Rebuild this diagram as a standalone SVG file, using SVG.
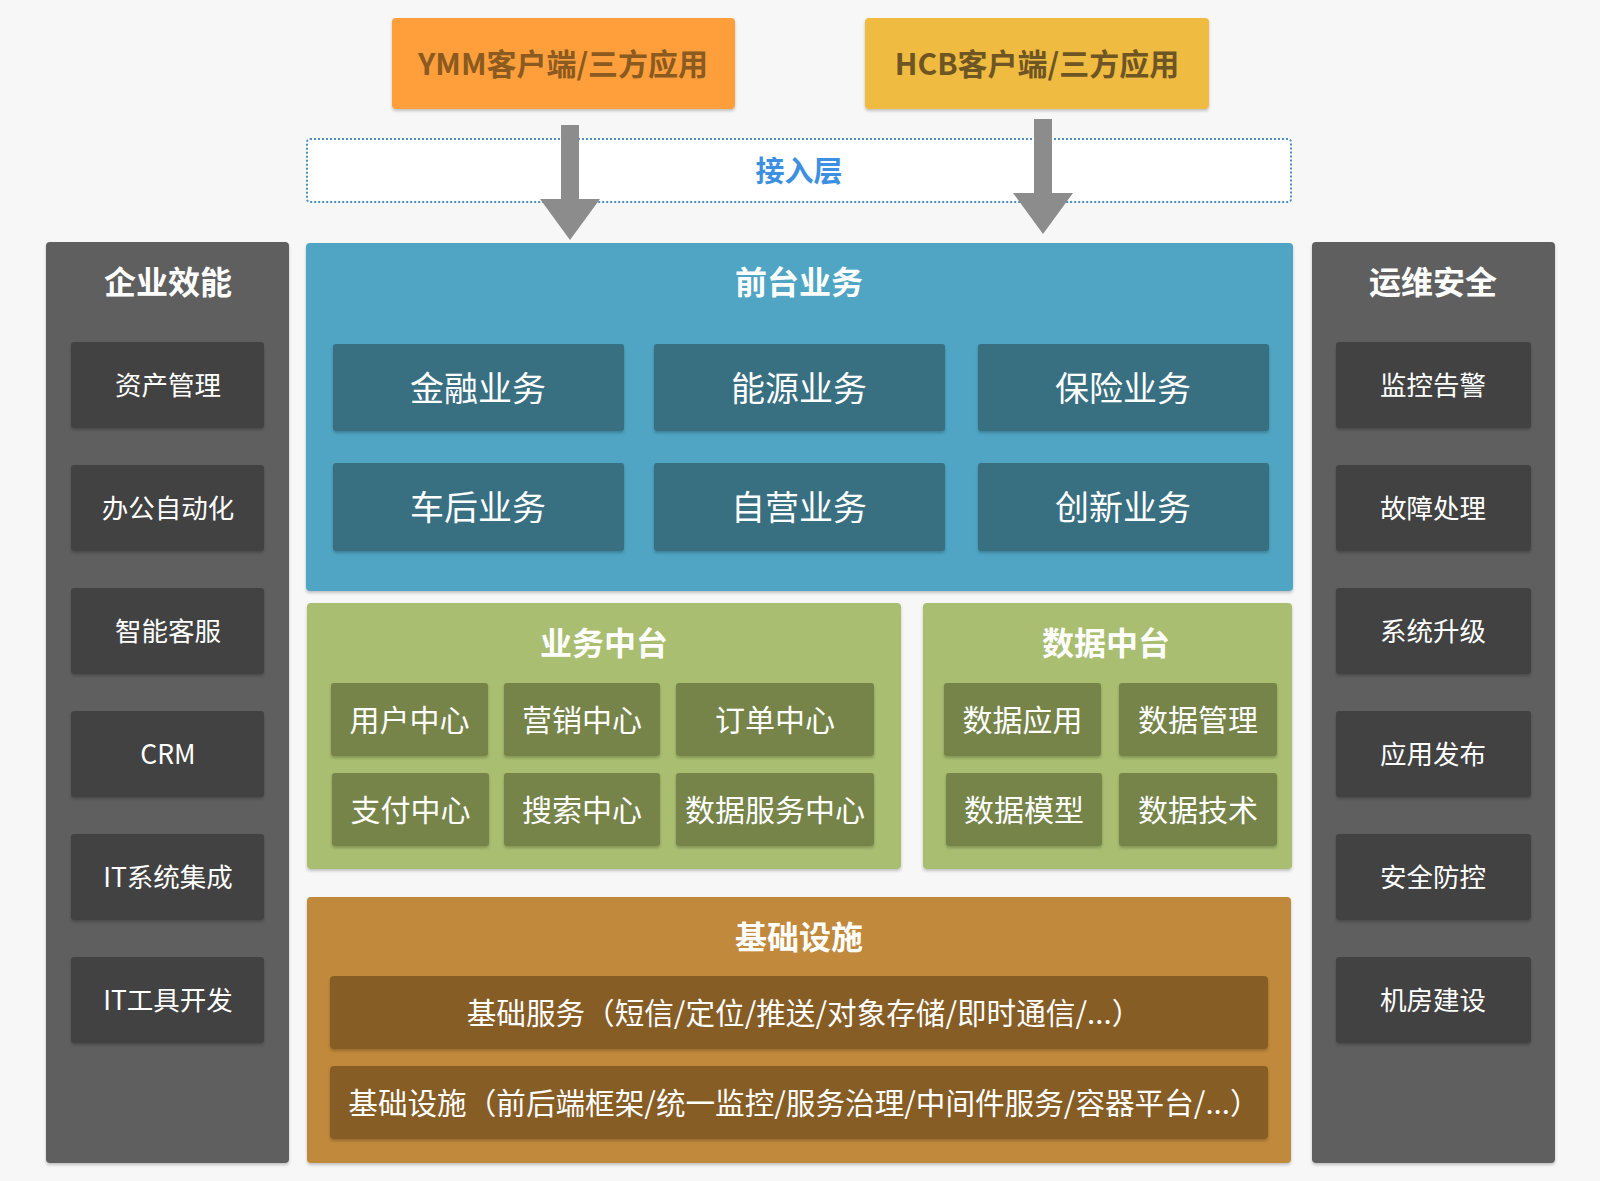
<svg xmlns="http://www.w3.org/2000/svg" width="1600" height="1181" viewBox="0 0 1600 1181">
<defs>
<filter id="sh" x="-5%" y="-5%" width="110%" height="115%">
<feDropShadow dx="0" dy="2" stdDeviation="1.5" flood-color="#000" flood-opacity="0.22"/>
</filter>
<style>
text{font-family:"Noto Sans CJK SC","Microsoft YaHei","Noto Sans",sans-serif;text-anchor:middle;fill:#fff}
.t{font-weight:bold;font-size:32px}
.side{fill:#5f5f5f}
.si{fill:#434343}
.st{font-size:26.5px}
.fi{fill:#386f82}
.ft{font-size:34px}
.gi{fill:#768449}
.gt{font-size:30px}
.ii{fill:#875d25}
.it{font-size:29.6px}
.arrow{fill:#8c8c8c}
</style>
</defs>
<rect x="0" y="0" width="1600" height="1181" fill="#f7f7f7"/>

<g id="ymm-client">
<rect x="392" y="18" width="343" height="91" rx="4" fill="#fe9f3b" filter="url(#sh)"/>
<text x="563" y="75" style="font-size:30px;font-weight:bold;fill:#8a5a20">YMM客户端/三方应用</text>
</g>
<g id="hcb-client">
<rect x="865" y="18" width="344" height="91" rx="4" fill="#efbb40" filter="url(#sh)"/>
<text x="1037" y="75" style="font-size:30px;font-weight:bold;fill:#6e5524">HCB客户端/三方应用</text>
</g>

<g id="access-layer">
<rect x="307" y="139" width="984" height="63" rx="3" fill="#ffffff" stroke="#4a8fc9" stroke-width="2" stroke-dasharray="2 2"/>
<text x="799" y="182" style="font-size:29px;font-weight:bold;fill:#3d8fe2">接入层</text>
</g>

<g id="enterprise-efficiency">
<rect class="side" x="46" y="242" width="243" height="921" rx="4" filter="url(#sh)"/>
<text class="t" x="168" y="294">企业效能</text>
<g id="asset-mgmt"><rect class="si" x="71" y="342" width="193" height="86" rx="3" filter="url(#sh)"/><text class="st" x="168" y="395">资产管理</text></g>
<g id="office-auto"><rect class="si" x="71" y="465" width="193" height="86" rx="3" filter="url(#sh)"/><text class="st" x="168" y="518">办公自动化</text></g>
<g id="smart-cs"><rect class="si" x="71" y="588" width="193" height="86" rx="3" filter="url(#sh)"/><text class="st" x="168" y="641">智能客服</text></g>
<g id="crm"><rect class="si" x="71" y="711" width="193" height="86" rx="3" filter="url(#sh)"/><text class="st" x="168" y="764">CRM</text></g>
<g id="it-integration"><rect class="si" x="71" y="834" width="193" height="86" rx="3" filter="url(#sh)"/><text class="st" x="168" y="887">IT系统集成</text></g>
<g id="it-tools"><rect class="si" x="71" y="957" width="193" height="86" rx="3" filter="url(#sh)"/><text class="st" x="168" y="1010">IT工具开发</text></g>
</g>

<g id="ops-security">
<rect class="side" x="1312" y="242" width="243" height="921" rx="4" filter="url(#sh)"/>
<text class="t" x="1433" y="294">运维安全</text>
<g id="monitor"><rect class="si" x="1336" y="342" width="195" height="86" rx="3" filter="url(#sh)"/><text class="st" x="1433" y="395">监控告警</text></g>
<g id="fault"><rect class="si" x="1336" y="465" width="195" height="86" rx="3" filter="url(#sh)"/><text class="st" x="1433" y="518">故障处理</text></g>
<g id="upgrade"><rect class="si" x="1336" y="588" width="195" height="86" rx="3" filter="url(#sh)"/><text class="st" x="1433" y="641">系统升级</text></g>
<g id="release"><rect class="si" x="1336" y="711" width="195" height="86" rx="3" filter="url(#sh)"/><text class="st" x="1433" y="764">应用发布</text></g>
<g id="security"><rect class="si" x="1336" y="834" width="195" height="86" rx="3" filter="url(#sh)"/><text class="st" x="1433" y="887">安全防控</text></g>
<g id="datacenter"><rect class="si" x="1336" y="957" width="195" height="86" rx="3" filter="url(#sh)"/><text class="st" x="1433" y="1010">机房建设</text></g>
</g>

<g id="front-business">
<rect x="306" y="243" width="987" height="348" rx="4" fill="#4fa5c3" filter="url(#sh)"/>
<text class="t" x="799" y="294">前台业务</text>
<g id="finance"><rect class="fi" x="333" y="344" width="291" height="87" rx="3" filter="url(#sh)"/><text class="ft" x="478" y="401">金融业务</text></g>
<g id="energy"><rect class="fi" x="654" y="344" width="291" height="87" rx="3" filter="url(#sh)"/><text class="ft" x="799" y="401">能源业务</text></g>
<g id="insurance"><rect class="fi" x="978" y="344" width="291" height="87" rx="3" filter="url(#sh)"/><text class="ft" x="1123" y="401">保险业务</text></g>
<g id="aftermarket"><rect class="fi" x="333" y="463" width="291" height="88" rx="3" filter="url(#sh)"/><text class="ft" x="478" y="520">车后业务</text></g>
<g id="self-run"><rect class="fi" x="654" y="463" width="291" height="88" rx="3" filter="url(#sh)"/><text class="ft" x="799" y="520">自营业务</text></g>
<g id="innovation"><rect class="fi" x="978" y="463" width="291" height="88" rx="3" filter="url(#sh)"/><text class="ft" x="1123" y="520">创新业务</text></g>
</g>

<g id="business-middle">
<rect x="307" y="603" width="594" height="266" rx="4" fill="#a9be6f" filter="url(#sh)"/>
<text class="t" x="604" y="655">业务中台</text>
<g id="user-center"><rect class="gi" x="331" y="683" width="157" height="73" rx="3" filter="url(#sh)"/><text class="gt" x="409.5" y="731">用户中心</text></g>
<g id="marketing-center"><rect class="gi" x="504" y="683" width="156" height="73" rx="3" filter="url(#sh)"/><text class="gt" x="582" y="731">营销中心</text></g>
<g id="order-center"><rect class="gi" x="676" y="683" width="198" height="73" rx="3" filter="url(#sh)"/><text class="gt" x="775" y="731">订单中心</text></g>
<g id="pay-center"><rect class="gi" x="332" y="773" width="157" height="73" rx="3" filter="url(#sh)"/><text class="gt" x="410.5" y="821">支付中心</text></g>
<g id="search-center"><rect class="gi" x="504" y="773" width="156" height="73" rx="3" filter="url(#sh)"/><text class="gt" x="582" y="821">搜索中心</text></g>
<g id="data-service-center"><rect class="gi" x="676" y="773" width="198" height="73" rx="3" filter="url(#sh)"/><text class="gt" x="775" y="821">数据服务中心</text></g>
</g>

<g id="data-middle">
<rect x="923" y="603" width="369" height="266" rx="4" fill="#a9be6f" filter="url(#sh)"/>
<text class="t" x="1106" y="655">数据中台</text>
<g id="data-app"><rect class="gi" x="944" y="683" width="157" height="73" rx="3" filter="url(#sh)"/><text class="gt" x="1022.5" y="731">数据应用</text></g>
<g id="data-mgmt"><rect class="gi" x="1119" y="683" width="158" height="73" rx="3" filter="url(#sh)"/><text class="gt" x="1198" y="731">数据管理</text></g>
<g id="data-model"><rect class="gi" x="946" y="773" width="156" height="73" rx="3" filter="url(#sh)"/><text class="gt" x="1024" y="821">数据模型</text></g>
<g id="data-tech"><rect class="gi" x="1119" y="773" width="158" height="73" rx="3" filter="url(#sh)"/><text class="gt" x="1198" y="821">数据技术</text></g>
</g>

<g id="infrastructure">
<rect x="307" y="897" width="984" height="266" rx="4" fill="#c1893a" filter="url(#sh)"/>
<text class="t" x="799" y="949">基础设施</text>
<g id="base-service"><rect class="ii" x="330" y="976" width="938" height="73" rx="4" filter="url(#sh)"/><text class="it" x="804" y="1024">基础服务（短信/定位/推送/对象存储/即时通信/...）</text></g>
<g id="base-infra"><rect class="ii" x="330" y="1066" width="938" height="73" rx="4" filter="url(#sh)"/><text class="it" x="804" y="1114">基础设施（前后端框架/统一监控/服务治理/中间件服务/容器平台/...）</text></g>
</g>

<g id="connectors">
<polygon class="arrow" points="561,125 579,125 579,199 600,199 570,240 540,199 561,199"/>
<polygon class="arrow" points="1034,119 1052,119 1052,193 1073,193 1043,234 1013,193 1034,193"/>
</g>
</svg>
